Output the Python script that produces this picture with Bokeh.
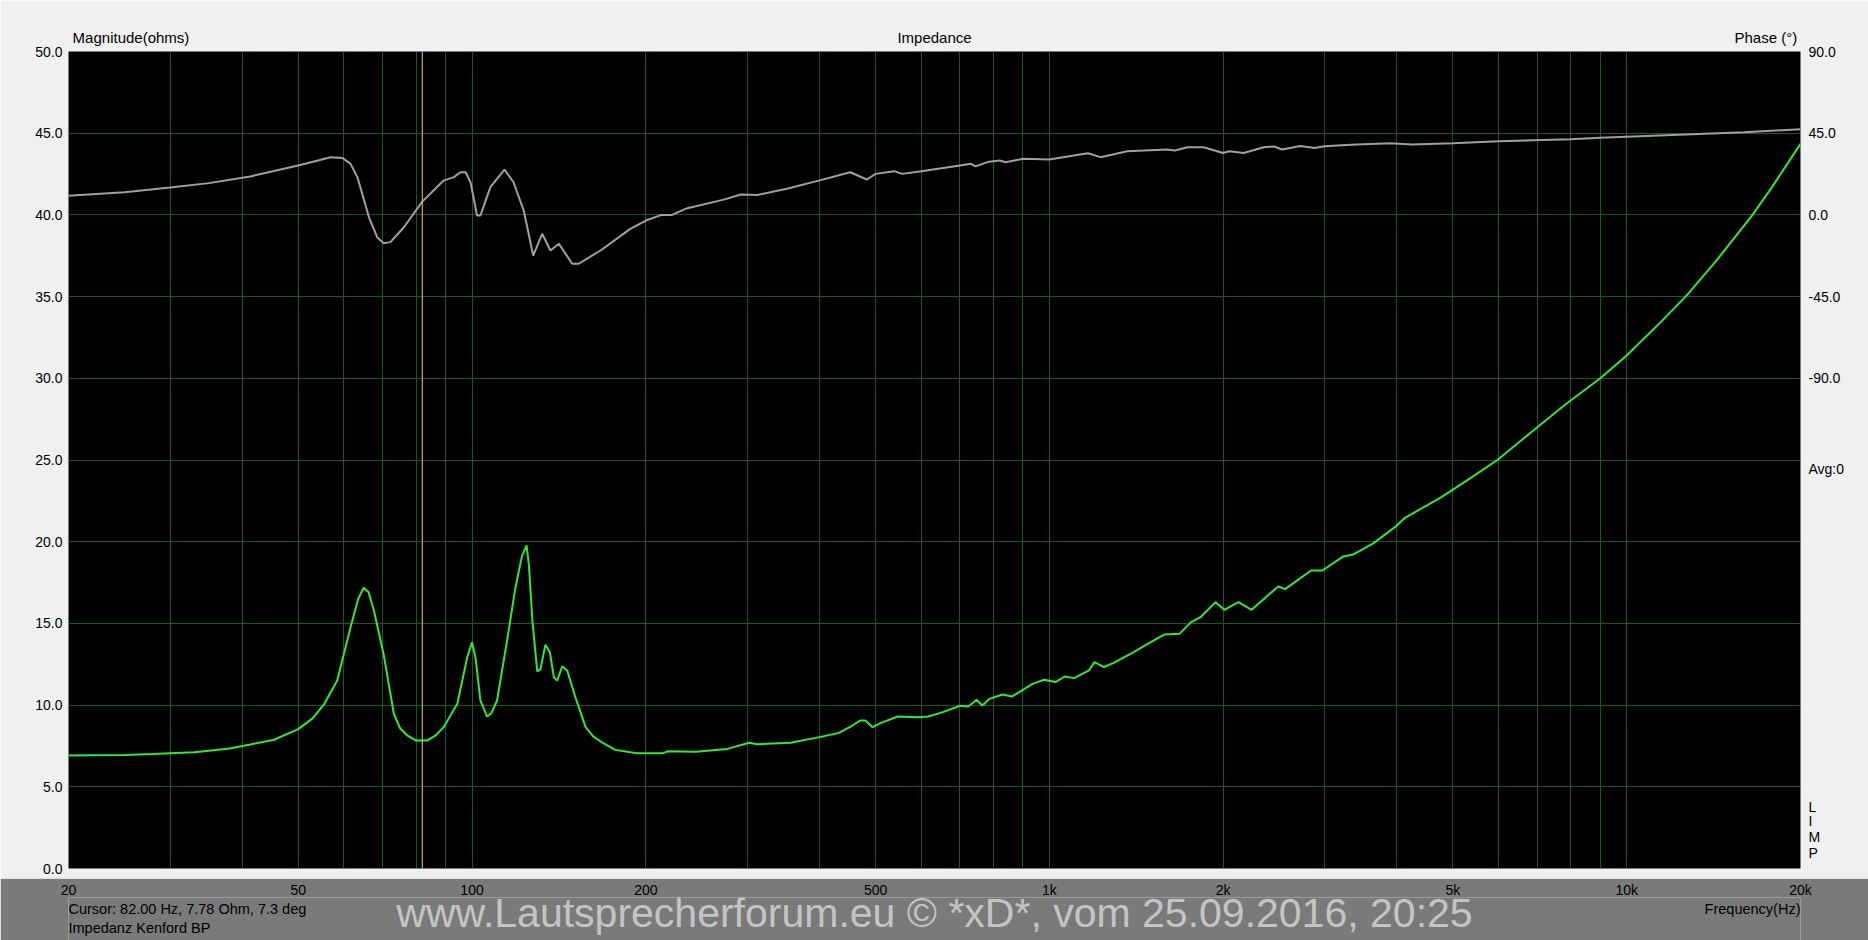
from bokeh.plotting import figure
from bokeh.models import (Range1d, LinearAxis, LogAxis, Grid, FixedTicker,
                          PrintfTickFormatter, Span, Label)
from bokeh.layouts import column
from bokeh.embed import file_html
from bokeh.resources import INLINE

# ---------------- data ----------------
mag_freq = [20, 22, 25, 28, 30, 33, 35, 38, 41.3, 45.4, 50, 53, 55.4, 58.4, 61.6, 63.5,
            64.9, 66.2, 67.6, 70.3, 73.2, 75, 77.2, 80, 83.6, 86.5, 89.3, 94.3, 98.1, 100,
            101.5, 103.4, 106.2, 108, 110.5, 115, 118.9, 122, 124.3, 125.5, 127.2, 129.7,
            131.4, 134, 136.4, 138.6, 140.4, 143.3, 146.2, 151, 157.3, 162, 167, 177, 193,
            214, 218, 244, 277, 302, 312, 356, 400, 432, 456, 470, 480, 494, 510, 546, 591,
            617, 654, 700, 724, 748, 765, 787, 830, 862, 935, 979, 1025, 1063, 1104, 1171,
            1197, 1243, 1290, 1400, 1465, 1580, 1680, 1760, 1827, 1940, 2010, 2125, 2240,
            2490, 2560, 2840, 2970, 3230, 3350, 3640, 3980, 4130, 4760, 5290, 5970, 6940,
            7830, 9000, 10000, 11350, 12650, 14300, 16520, 17850, 20000]
mag_ohm = [6.92, 6.93, 6.95, 7.0, 7.05, 7.12, 7.2, 7.35, 7.59, 7.88, 8.53, 9.2, 10.04, 11.5,
           14.77, 16.5, 17.18, 16.9, 15.8, 13.1, 9.47, 8.6, 8.14, 7.83, 7.83, 8.15, 8.65,
           10.08, 12.93, 13.85, 12.8, 10.28, 9.3, 9.5, 10.28, 13.95, 17.2, 19.1, 19.77,
           18.5, 15.18, 12.06, 12.2, 13.7, 13.24, 11.7, 11.5, 12.38, 12.1, 10.48, 8.65, 8.1,
           7.77, 7.26, 7.05, 7.05, 7.17, 7.14, 7.32, 7.7, 7.6, 7.7, 8.04, 8.3, 8.75, 9.06,
           9.06, 8.65, 8.9, 9.3, 9.26, 9.3, 9.57, 9.96, 9.92, 10.33, 9.98, 10.38, 10.65,
           10.53, 11.3, 11.55, 11.41, 11.75, 11.65, 12.12, 12.63, 12.33, 12.57, 13.24,
           13.65, 14.32, 14.36, 15.08, 15.38, 16.3, 15.83, 16.3, 15.83, 17.26, 17.1, 18.24,
           18.24, 19.1, 19.2, 19.9, 20.93, 21.46, 22.7, 23.75, 25.0, 26.9, 28.4, 30.0, 31.4,
           33.3, 35.0, 37.2, 40.0, 41.7, 44.35]

phase_freq = [20, 25, 30, 35, 41.3, 50, 56.9, 59.6, 61.6, 63.3, 66.3, 68.5, 70.3, 72.2, 76.2,
              82, 89.3, 93, 95.5, 97.5, 99.4, 102, 103.4, 107.6, 113.8, 118, 122.9, 127.6,
              132.3, 136.7, 141.4, 149.1, 153, 167, 188, 200, 213, 222, 236, 273, 292, 312,
              351, 400, 452, 483, 500, 538, 556, 600, 700, 730, 745, 781, 820, 840, 900,
              1000, 1102, 1166, 1227, 1364, 1600, 1650, 1733, 1850, 2000, 2050, 2170, 2352,
              2450, 2530, 2723, 2880, 3000, 3325, 3900, 4250, 5000, 6000, 8000, 9009, 12000,
              16000, 20000]
phase_deg = [10.5, 12.5, 15.1, 17.5, 21.2, 27.2, 31.8, 31.4, 28.1, 20.8, -1.3, -12.3, -15.6,
             -15.0, -6.8, 7.3, 18.9, 20.8, 23.5, 23.5, 18.0, -0.3, -0.3, 15.3, 25.0, 18.0,
             2.4, -22.4, -10.4, -19.6, -15.9, -26.9, -26.9, -19.6, -7.7, -3.1, 0.0, 0.0, 3.7,
             8.4, 11.2, 11.0, 14.4, 19.0, 23.5, 19.5, 22.6, 24.1, 22.6, 24.1, 27.2, 28.2,
             26.7, 29.1, 30.0, 29.0, 30.9, 30.5, 32.7, 34.0, 31.8, 35.1, 36.0, 35.5, 37.3,
             37.3, 34.1, 35.1, 34.1, 37.3, 37.7, 36.0, 38.0, 36.8, 37.8, 38.6, 39.5, 38.8,
             39.5, 40.6, 41.7, 42.5, 44.0, 45.5, 47.2]

mag_ticks = [0, 5, 10, 15, 20, 25, 30, 35, 40, 45, 50]
phase_ticks = [-90, -45, 0, 45, 90]
x_tick_vals = [20, 50, 100, 200, 500, 1000, 2000, 5000, 10000, 20000]
x_tick_labels = ["20", "50", "100", "200", "500", "1k", "2k", "5k", "10k", "20k"]
x_grid_vals = [30, 40, 50, 60, 70, 80, 90, 100, 200, 300, 400, 500, 600, 700, 800, 900,
               1000, 2000, 3000, 4000, 5000, 6000, 7000, 8000, 9000, 10000]
y_grid_vals = [5, 10, 15, 20, 25, 30, 35, 40, 45]
cursor_freq = 82

# header texts (placed along the frequency axis above the plot)
header_pos = [25.66, 632.46, 17420]
header_text = ["Magnitude(ohms)", "Impedance", "Phase (°)"]
# side texts (placed along the phase axis right of the plot)
side_pos = [-139.7, -325.9, -334.1, -342.9, -351.7]
side_text = ["Avg:0", "L", "I", "M", "P"]

FONT = "Liberation Sans"
GRID = "#1d581d"

x_range = Range1d(20, 20000)

top = figure(width=1868, height=878, x_axis_type="log", x_range=x_range,
             y_range=Range1d(0, 50), x_axis_location=None, y_axis_location=None,
             output_backend="svg", toolbar_location=None,
             min_border_left=68, min_border_right=68, min_border_top=51, min_border_bottom=10,
             background_fill_color="black", border_fill_color="#f0f0f0",
             outline_line_color=None)
top.grid.visible = False
top.extra_y_ranges = {"phase": Range1d(-360, 90)}

top.add_layout(Grid(dimension=0, ticker=FixedTicker(ticks=x_grid_vals),
                    grid_line_color=GRID, grid_line_width=1))
top.add_layout(Grid(dimension=1, ticker=FixedTicker(ticks=y_grid_vals),
                    grid_line_color=GRID, grid_line_width=1))

common = dict(axis_line_color=None, major_tick_line_color=None, minor_tick_line_color=None,
              major_tick_out=0, major_tick_in=0, major_label_text_font=FONT,
              major_label_text_color="black")

yl = LinearAxis(ticker=FixedTicker(ticks=mag_ticks), formatter=PrintfTickFormatter(format="%.1f"),
                major_label_standoff=6, major_label_text_font_size="14px", **common)
top.add_layout(yl, "left")

yr = LinearAxis(y_range_name="phase", ticker=FixedTicker(ticks=phase_ticks + side_pos),
                formatter=PrintfTickFormatter(format="%.1f"),
                major_label_overrides={v: t for v, t in zip(side_pos, side_text)},
                major_label_standoff=8, major_label_text_font_size="14px", **common)
top.add_layout(yr, "right")

xh = LogAxis(ticker=FixedTicker(ticks=header_pos),
             major_label_overrides={v: t for v, t in zip(header_pos, header_text)},
             major_label_standoff=6, major_label_text_font_size="15px", **common)
top.add_layout(xh, "above")

top.add_layout(Span(location=cursor_freq, dimension="height", line_color="#d8d860", line_width=1))

top.line(phase_freq, phase_deg, y_range_name="phase", line_color="#a0a0a0", line_width=2)
top.line(mag_freq, mag_ohm, line_color="#33e833", line_width=2)

center_f = (20 * 20000) ** 0.5
def lab(fig, x, y, text, xo=0, yo=0, align="left", size="15px", color="black"):
    fig.add_layout(Label(x=x, y=y, x_offset=xo, y_offset=yo, text=text, text_align=align,
                         text_baseline="middle", text_font=FONT, text_font_size=size,
                         text_color=color))

bot = figure(width=1868, height=62, x_axis_type="log", x_range=x_range,
             y_range=Range1d(0, 1), x_axis_location=None, y_axis_location=None,
             output_backend="svg", toolbar_location=None,
             min_border_left=68, min_border_right=68, min_border_top=0, min_border_bottom=0,
             background_fill_color="#7a7a7a", border_fill_color="#7a7a7a",
             outline_line_color=None)
bot.grid.visible = False
xa = LogAxis(ticker=FixedTicker(ticks=x_tick_vals),
             major_label_overrides={v: t for v, t in zip(x_tick_vals, x_tick_labels)},
             major_label_standoff=0, major_label_text_font_size="14px", **common)
bot.add_layout(xa, "above")

lab(bot, 20, 0, "Cursor: 82.00 Hz, 7.78 Ohm, 7.3 deg", yo=32, size="14.5px")
lab(bot, 20, 0, "Impedanz Kenford BP", yo=13, size="14.5px")
lab(bot, center_f, 0, "www.Lautsprecherforum.eu © *xD*, vom 25.09.2016, 20:25",
    yo=28, align="center", size="41px", color="#c4c4c4")
lab(bot, 20000, 0, "Frequency(Hz)", yo=32, align="right", size="14.5px")

layout = column(top, bot, spacing=0)
open("out.html", "w").write(file_html(layout, INLINE))
